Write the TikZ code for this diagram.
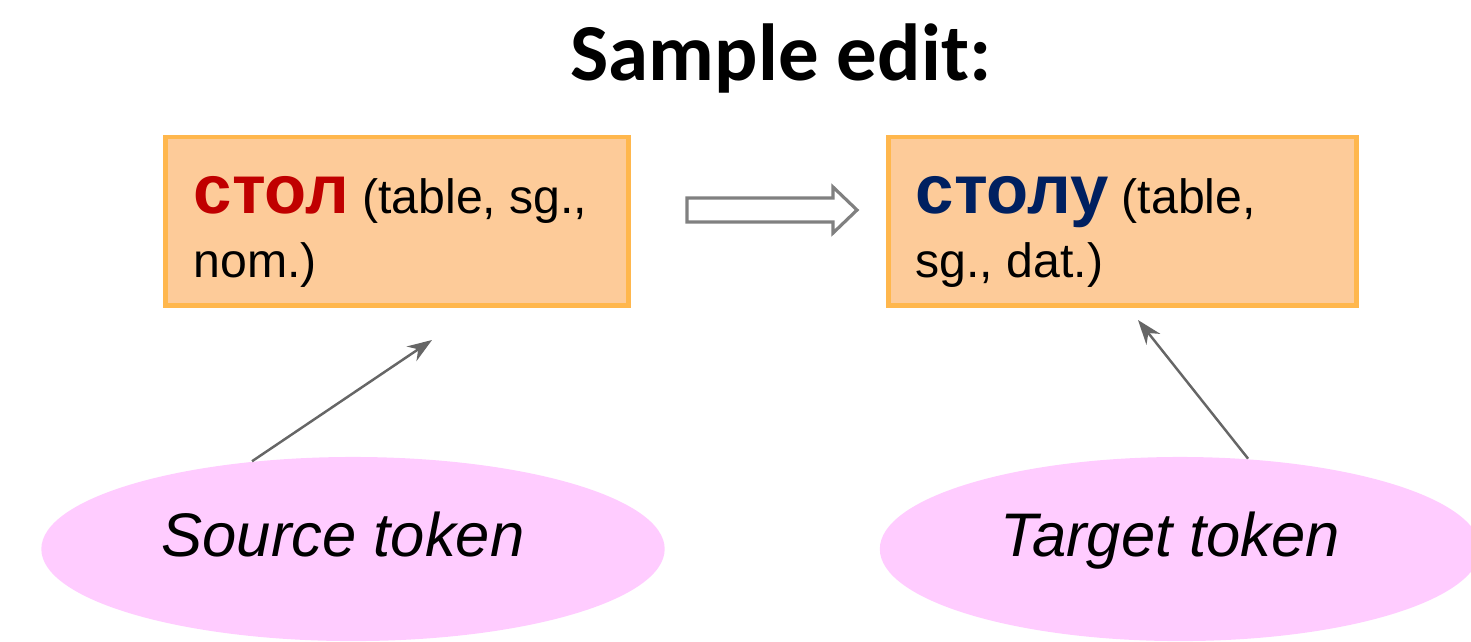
\documentclass[tikz,border=0pt]{standalone}
\usepackage{fontspec}
\setmainfont{Liberation Sans}
\newfontfamily\titlefont{Carlito}
\usetikzlibrary{shapes.geometric,arrows.meta}

\definecolor{boxfill}{RGB}{253,203,153}
\definecolor{boxline}{RGB}{255,183,77}
\definecolor{ovalfill}{RGB}{255,204,255}
\definecolor{srcred}{RGB}{192,0,0}
\definecolor{tgtblue}{RGB}{0,32,96}
\definecolor{arrowgray}{RGB}{128,128,128}

\newcommand{\tokword}[2]{{\bfseries\fontsize{19.6}{19.6}\selectfont\color{#1}#2}}

\begin{document}
\begin{tikzpicture}[x=0.01cm,y=-0.01cm]
		\tikzset{tokbox/.style = {draw=boxline, fill=boxfill, line width=1.4pt, minimum height=1.68cm, inner sep=0pt}}
		\tikzset{toktext/.style = {anchor=north west, inner sep=0pt, align=left, font=\fontsize{13.7}{18.2}\selectfont}}
		\tikzset{oval/.style = {ellipse, fill=ovalfill, inner sep=0pt, minimum height=1.84cm, text height=12.5pt, text depth=8pt, font=\fontsize{17.5}{20}\selectfont\itshape, execute at end node=\hspace{0.2cm}}}
		\tikzset{pointer/.style = {draw=black!60, line width=0.7pt, -{Stealth[length=7pt,width=5pt]}}}
		\tikzset{blockarrow/.style = {draw=arrowgray, line width=0.9pt, line join=miter}}

		\useasboundingbox (0,0) rectangle (1471,641);

		\node[anchor=base, font=\titlefont\bfseries\fontsize{23}{26}\selectfont] (title) at (781,80) {Sample edit:};

		\node[tokbox, minimum width=4.62cm] (src) at (397,221) {};
		\node[toktext] (srctext) at (193,176) {\tokword{srcred}{стол} (table, sg.,\\nom.)};

		\node[tokbox, minimum width=4.67cm] (tgt) at (1122.5,221) {};
		\node[toktext] (tgttext) at (915,176) {\tokword{tgtblue}{столу} (table,\\sg., dat.)};

		% hollow arrow between the two tokens
		\coordinate (arr) at (687,210);
		\draw[blockarrow] (arr) ++(0,-12) -- ++(146,0) -- ++(0,-11) -- ++(24,23) -- ++(-24,23) -- ++(0,-11) -- ++(-146,0) -- cycle;

		\node[oval, minimum width=6.23cm] (srcoval) at (353,549) {Source token};
		\node[oval, minimum width=6.0cm] (tgtoval) at (1180,549) {Target token};

		\coordinate (srctip) at (432,340);
		\coordinate (tgttip) at (1138,320);
		\draw[pointer] (srcoval.139) -- (srctip);
		\draw[pointer] (tgtoval.53) -- (tgttip);

	\end{tikzpicture}
\end{document}
